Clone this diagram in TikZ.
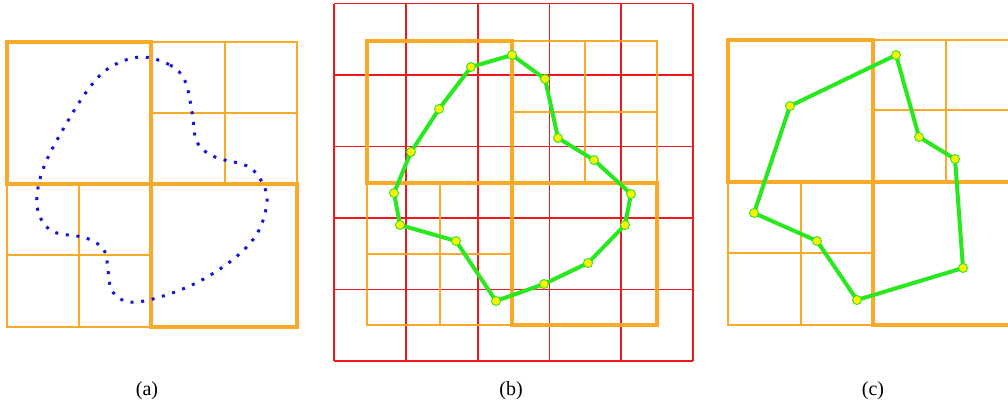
\documentclass[tikz,border=0pt]{standalone}
\usepackage{fontspec}
\setmainfont{Liberation Serif}
\usepackage{xcolor}
\definecolor{qorange}{RGB}{250,170,40}
\definecolor{qred}{RGB}{240,25,25}
\definecolor{qgreen}{RGB}{40,232,30}
\definecolor{qblue}{RGB}{20,20,225}

\begin{document}
\begin{tikzpicture}[x=1pt, y=-1pt,
    thin cell/.style={draw=qorange, line width=1.7pt},
    big cell/.style={draw=qorange, line width=3.4pt},
    grid line/.style={draw=qred, line width=1.8pt},
    poly/.style={draw=qgreen, line width=4pt, line join=round},
    vtx/.style={circle, fill=yellow, draw=qgreen, line width=0.9pt, minimum size=9pt, inner sep=0pt},
    caption/.style={font=\fontsize{20}{24}\selectfont, inner sep=0pt}]
    \useasboundingbox (0,0) rectangle (1008,410);
    \clip (0,0) rectangle (1008,410);

    % (a) quadtree and contour
    \begin{scope}[shift={(7,42)}]
        \draw[thin cell] (144,0) rectangle (290,142) (218,0) -- (218,142) (144,71) -- (290,71);
        \draw[thin cell] (0,142) rectangle (144,285) (72,142) -- (72,285) (0,213) -- (144,213);
        \draw[big cell] (0,0) rectangle (144,142);
        \draw[big cell] (144,142) rectangle (290,285);
    \end{scope}
    \draw[qblue, line width=3pt, dash pattern=on 3pt off 7.7pt]
        plot[smooth cycle, tension=0.6] coordinates {(140,57) (170,65) (185,81) (192,112) (197,142)
        (215,157) (247,166) (262,182) (267,202) (258,232) (236,257) (200,281) (160,297)
        (129,302) (112,291) (108,270) (104,250) (86,238) (54,232) (40,217) (37,195)
        (45,164) (65,126) (87,91) (109,68)};
    \node[caption] (capa) at (147,391) {(a)};

    % (b) grid, quadtree and polygon
    \foreach \i in {0,...,5} {
        \draw[grid line] (334+71.8*\i,3.5) -- (334+71.8*\i,361);
        \draw[grid line] (334,3.5+71.5*\i) -- (693,3.5+71.5*\i);
    }
    \begin{scope}[shift={(367,41)}]
        \draw[thin cell] (145,0) rectangle (290,142) (218,0) -- (218,142) (145,71) -- (290,71);
        \draw[thin cell] (0,142) rectangle (145,284) (73,142) -- (73,284) (0,213) -- (145,213);
        \draw[big cell] (0,0) rectangle (145,142);
        \draw[big cell] (145,142) rectangle (290,284);
    \end{scope}
    \foreach \n/\p in {1/{512,55}, 2/{545,79}, 3/{558,138}, 4/{594,160}, 5/{631,194},
        6/{625,225}, 7/{588,263}, 8/{544,284}, 9/{496,301}, 10/{456,241},
        11/{400,225}, 12/{394,193}, 13/{411,152}, 14/{439,109}, 15/{471,67}}
        \coordinate (b\n) at (\p);
    \draw[poly] (b1) \foreach \n in {2,...,15} { -- (b\n) } -- cycle;
    \foreach \n in {1,...,15}
        \node[vtx] (bv\n) at (b\n) {};
    \node[caption] (capb) at (511,391) {(b)};

    % (c) quadtree and simplified polygon
    \begin{scope}[shift={(728,40)}]
        \draw[thin cell] (145,0) rectangle (290,142) (218,0) -- (218,142) (145,70) -- (290,70);
        \draw[thin cell] (0,142) rectangle (145,285) (73,142) -- (73,285) (0,213) -- (145,213);
        \draw[big cell] (0,0) rectangle (145,142);
        \draw[big cell] (145,142) rectangle (290,285);
    \end{scope}
    \foreach \n/\p in {1/{896,55}, 2/{919,137}, 3/{955,159}, 4/{963,268},
        5/{857,300}, 6/{817,241}, 7/{754,213}, 8/{790,106}}
        \coordinate (c\n) at (\p);
    \draw[poly] (c1) \foreach \n in {2,...,8} { -- (c\n) } -- cycle;
    \foreach \n in {1,...,8}
        \node[vtx] (cv\n) at (c\n) {};
    \node[caption] (capc) at (873,391) {(c)};
\end{tikzpicture}
\end{document}
